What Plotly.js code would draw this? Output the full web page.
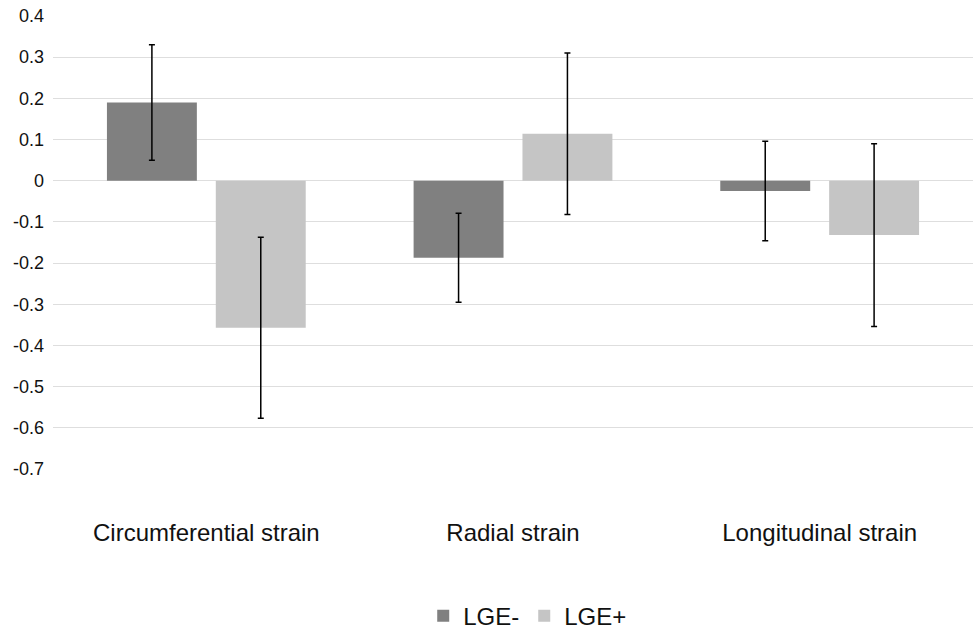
<!DOCTYPE html>
<html>
<head>
<meta charset="utf-8">
<script src="https://cdn.plot.ly/plotly-3.0.1.min.js"></script>
<style>html,body{margin:0;padding:0;background:#fff;}#chart{width:975px;height:629px;}</style>
</head>
<body>
<div id="chart"></div>
<script>
const categories = ['Circumferential strain', 'Radial strain', 'Longitudinal strain'];
const lgeMinus = [0.19, -0.187, -0.025];
const lgeMinusErr = [0.14, 0.108, 0.121];
const lgePlus = [-0.357, 0.114, -0.132];
const lgePlusErr = [0.22, 0.196, 0.222];
const yTickVals = [0.4, 0.3, 0.2, 0.1, 0, -0.1, -0.2, -0.3, -0.4, -0.5, -0.6, -0.7];
const yTickText = ['0.4', '0.3', '0.2', '0.1', '0', '-0.1', '-0.2', '-0.3', '-0.4', '-0.5', '-0.6', '-0.7'];

const font = 'Liberation Sans, Arial, sans-serif';
const err = (arr) => ({type: 'data', array: arr, visible: true, color: '#000', thickness: 1.5, width: 3});

const data = [
  {type: 'bar', name: 'LGE-', x: categories, y: lgeMinus, error_y: err(lgeMinusErr),
   marker: {color: '#808080'}},
  {type: 'bar', name: 'LGE+', x: categories, y: lgePlus, error_y: err(lgePlusErr),
   marker: {color: '#c5c5c5'}}
];

const layout = {
  width: 975, height: 629,
  margin: {l: 53, r: 2, t: 16, b: 160, autoexpand: false},
  paper_bgcolor: '#fff', plot_bgcolor: '#fff',
  font: {family: font, color: '#111'},
  barmode: 'group', bargap: 0.29, bargroupgap: 0.174,
  showlegend: true,
  legend: {orientation: 'h', x: 0.516, xanchor: 'center', y: -0.325, yanchor: 'middle',
           font: {size: 24, family: font, color: '#111'}, itemwidth: 30, traceorder: 'normal'},
  xaxis: {type: 'category', showgrid: false, zeroline: false, showline: false,
          ticks: 'outside', ticklen: 42, tickcolor: 'rgba(0,0,0,0)',
          tickfont: {size: 24, family: font, color: '#111'}},
  yaxis: {range: [-0.7, 0.4], tickvals: yTickVals, ticktext: yTickText,
          showgrid: true, gridcolor: '#dedede', gridwidth: 1,
          zeroline: true, zerolinecolor: '#dedede', zerolinewidth: 1,
          showline: false, ticks: '', ticklabelstandoff: 8,
          tickfont: {size: 18, family: font, color: '#111'}}
};

Plotly.newPlot('chart', data, layout, {displayModeBar: false, staticPlot: true});
</script>
</body>
</html>
